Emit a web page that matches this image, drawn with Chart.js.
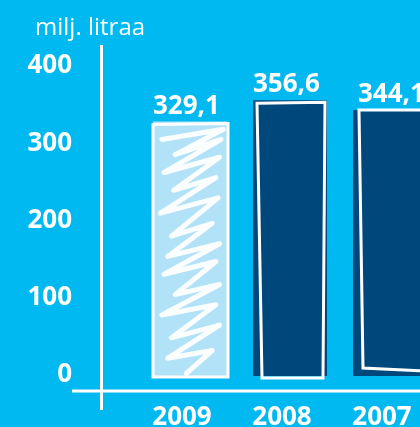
<!DOCTYPE html>
<html>
<head>
<meta charset="utf-8">
<script src="https://cdn.jsdelivr.net/npm/chart.js@4/dist/chart.umd.min.js"></script>
<style>
html,body{margin:0;padding:0;background:#00b9f0;overflow:hidden}
canvas{display:block}
</style>
</head>
<body>
<canvas id="chart" width="440" height="427"></canvas>
<script>

// data
let years=["2009","2008","2007"]
let volumes=[329.1,356.6,344.1]
let volumeLabels=["329,1","356,6","344,1"]
let yTicks=[0,100,200,300,400]
let unitLabel="milj. litraa"

// styling
let navy="#00477c"
let light="#b2e2f8"
let barColors=[light,navy,navy]
// hand drawn outline corners, offsets from the bar rect: TL, TR, BR, BL
let outlineOffsets=[
[[0,3],[1,2],[1,1],[0,1]],
[[4,3],[-2,2],[-4,2],[9,2]],
[[6,0],[20,0],[20,-4],[10,-8]]
]
// scribble inside the 2009 bar, fractions of the bar box
let scribble=[
[0.12,0.07],[0.95,0.03],[0.3,0.13],[0.92,0.07],[0.15,0.2],[0.9,0.14],
[0.28,0.27],[0.85,0.22],[0.1,0.36],[0.88,0.3],[0.25,0.45],[0.8,0.4],
[0.2,0.53],[0.9,0.48],[0.15,0.6],[0.85,0.55],[0.3,0.68],[0.9,0.64],
[0.12,0.76],[0.85,0.72],[0.25,0.85],[0.9,0.8],[0.2,0.93],[0.8,0.9],[0.45,0.99]
]

let deco={
id:"deco",
afterDatasetsDraw(c){
let ctx=c.ctx
let meta=c.getDatasetMeta(0)
ctx.save()
meta.data.forEach((b,i)=>{
let l=b.x-b.width/2,r=b.x+b.width/2,t=b.y,bt=b.base
let o=outlineOffsets[i]
if(i===0){
ctx.strokeStyle="rgba(255,255,255,0.95)"
ctx.lineWidth=5
ctx.lineCap="round"
ctx.lineJoin="round"
ctx.beginPath()
scribble.forEach((p,k)=>{
let x=l+p[0]*(r-l),y=t+p[1]*(bt-t)
if(k===0)ctx.moveTo(x,y);else ctx.lineTo(x,y)
})
ctx.stroke()
}
ctx.strokeStyle="#ffffff"
ctx.lineWidth=3
ctx.lineCap="butt"
ctx.lineJoin="miter"
ctx.beginPath()
ctx.moveTo(l+o[0][0],t+o[0][1])
ctx.lineTo(r+o[1][0],t+o[1][1])
ctx.lineTo(r+o[2][0],bt+o[2][1])
ctx.lineTo(l+o[3][0],bt+o[3][1])
ctx.closePath()
ctx.stroke()
ctx.fillStyle="#ffffff"
ctx.font="bold 26px 'Open Sans'"
ctx.textAlign="left"
ctx.textBaseline="alphabetic"
ctx.fillText(volumeLabels[i],l+(i===2?5:0),t-8)
})
ctx.restore()
},
afterDraw(c){
let ctx=c.ctx
let a=c.chartArea
ctx.save()
ctx.strokeStyle="#ffffff"
ctx.lineWidth=3
ctx.beginPath()
ctx.moveTo(101.5,a.top)
ctx.lineTo(101.5,a.bottom+19)
ctx.moveTo(72,a.bottom)
ctx.lineTo(c.width,a.bottom)
ctx.stroke()
ctx.fillStyle="#ffffff"
ctx.font="24px 'Open Sans'"
ctx.textBaseline="alphabetic"
ctx.fillText(unitLabel,35,35)
ctx.restore()
}
}

new Chart(document.getElementById("chart"),{
type:"bar",
data:{
labels:years,
datasets:[{
data:volumes,
backgroundColor:barColors,
borderWidth:0,
barPercentage:0.74,
categoryPercentage:1
}]
},
options:{
responsive:false,
animation:false,
layout:{padding:{top:45,left:0,right:0,bottom:0}},
plugins:{legend:{display:false},tooltip:{enabled:false}},
scales:{
x:{
grid:{display:false},
border:{display:false},
afterFit(s){s.height=36;s.paddingLeft=0;s.paddingRight=0},
ticks:{color:"#ffffff",font:{family:"Open Sans",size:26,weight:"bold"},padding:3,labelOffset:-8,autoSkip:false,maxRotation:0}
},
y:{
min:-19.4,
max:428.2,
grid:{display:false},
border:{display:false},
afterFit(s){s.width=140;s.paddingTop=0;s.paddingBottom=0},
afterBuildTicks(s){s.ticks=yTicks.map(v=>({value:v}))},
ticks:{color:"#ffffff",font:{family:"Open Sans",size:26,weight:"bold"},padding:60,labelOffset:-1}
}
}
},
plugins:[deco]
})

</script>
</body>
</html>
